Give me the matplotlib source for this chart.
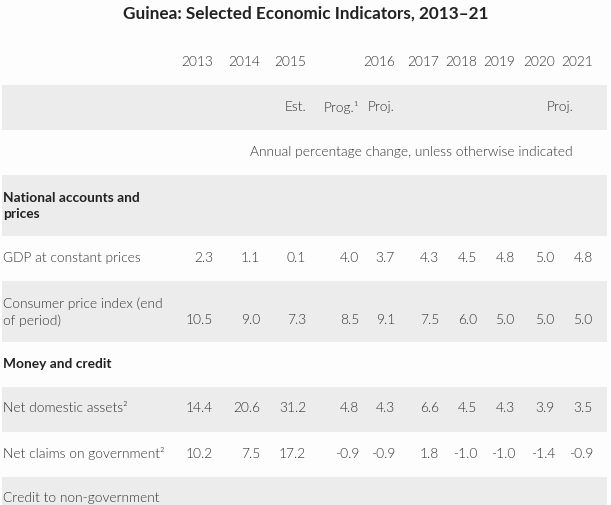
"""
Guinea selected economic indicators table, drawn as plain text on
alternating grey bands.
"""

from matplotlib import pyplot as plt

TITLE = "Guinea: Selected Economic Indicators, 2013–21"
YEARS = ["2013", "2014", "2015", "", "2016", "2017", "2018", "2019", "2020", "2021"]
STATUS = ["", "", "Est.", "Prog.¹", "Proj.", "", "", "", "", ""]
UNITS = "Annual percentage change, unless otherwise indicated"

ROW_LABELS = [
    "National accounts and\nprices",
    "GDP at constant prices",
    "Consumer price index (end\nof period)",
    "Money and credit",
    "Net domestic assets²",
    "Net claims on government²",
    "Credit to non-government",
]
ROW_BOLD = [True, False, False, True, False, False, False]
ROW_LINES = [2, 1, 2, 1, 1, 1, 2]

GDP = [2.3, 1.1, 0.1, 4.0, 3.7, 4.3, 4.5, 4.8, 5.0, 4.8]
CPI = [10.5, 9.0, 7.3, 8.5, 9.1, 7.5, 6.0, 5.0, 5.0, 5.0]
NDA = [14.4, 20.6, 31.2, 4.8, 4.3, 6.6, 4.5, 4.3, 3.9, 3.5]
NCG = [10.2, 7.5, 17.2, -0.9, -0.9, 1.8, -1.0, -1.0, -1.4, -0.9]
ROW_VALUES = [None, GDP, CPI, None, NDA, NCG, None]

# layout in pixels
W, H = 611, 505
COL_RIGHT = [213, 260, 306, 359, 395, 439, 477, 515, 555, 593]
ROW_H = {1: 45, 2: 61}
GREY = "#ececec"
TEXT = "#333333"
DARK = "#222222"
FS = 9.9
LIGHT = 300

plt.rcParams["font.family"] = ["Lato", "DejaVu Sans"]


def cell(x, y, s, ha="right", **kw):
    kw.setdefault("fontweight", LIGHT)
    kw.setdefault("color", TEXT)
    ax.text(x, y, s, ha=ha, va="center", fontsize=FS, **kw)


fig = plt.figure(figsize=(W / 100, H / 100), dpi=100)
fig.patch.set_facecolor("#fdfdfd")
ax = fig.add_axes([0, 0, 1, 1])
ax.set_xlim(0, W)
ax.set_ylim(H, 0)
ax.axis("off")

ax.text(W / 2, 14, TITLE, ha="center", va="center", fontsize=12.3,
        fontweight="bold", color=DARK)

# header rows
top = 40
for x, y in zip(COL_RIGHT, YEARS):
    cell(x, top + 22, y)
top += 45

ax.add_patch(plt.Rectangle((2, top), W - 6, 45, color=GREY, lw=0))
for x, s in zip(COL_RIGHT, STATUS):
    if s == "Proj.":
        cell(x - 27, top + 22, s, ha="left")
    elif s:
        cell(x, top + 22, s)
cell(573, top + 22, "Proj.")
top += 45

cell(573, top + 22, UNITS)
top += 45

for i, (label, bold, n, vals) in enumerate(zip(ROW_LABELS, ROW_BOLD, ROW_LINES, ROW_VALUES)):
    h = ROW_H[n]
    if i % 2 == 0:
        ax.add_patch(plt.Rectangle((2, top), W - 6, h, color=GREY, lw=0))
    first = top + 21.5
    nl = label.count("\n") + 1
    cell(3, first + 9.5 * (nl - 1), label, ha="left", linespacing=1.42,
         fontweight="bold" if bold else LIGHT, color=DARK if bold else TEXT)
    if vals is not None:
        vy = first + 17 * (n - 1)
        for x, v in zip(COL_RIGHT, vals):
            cell(x, vy, f"{v:.1f}")
    top += h

fig.savefig("out.png", dpi=100, facecolor=fig.get_facecolor())
